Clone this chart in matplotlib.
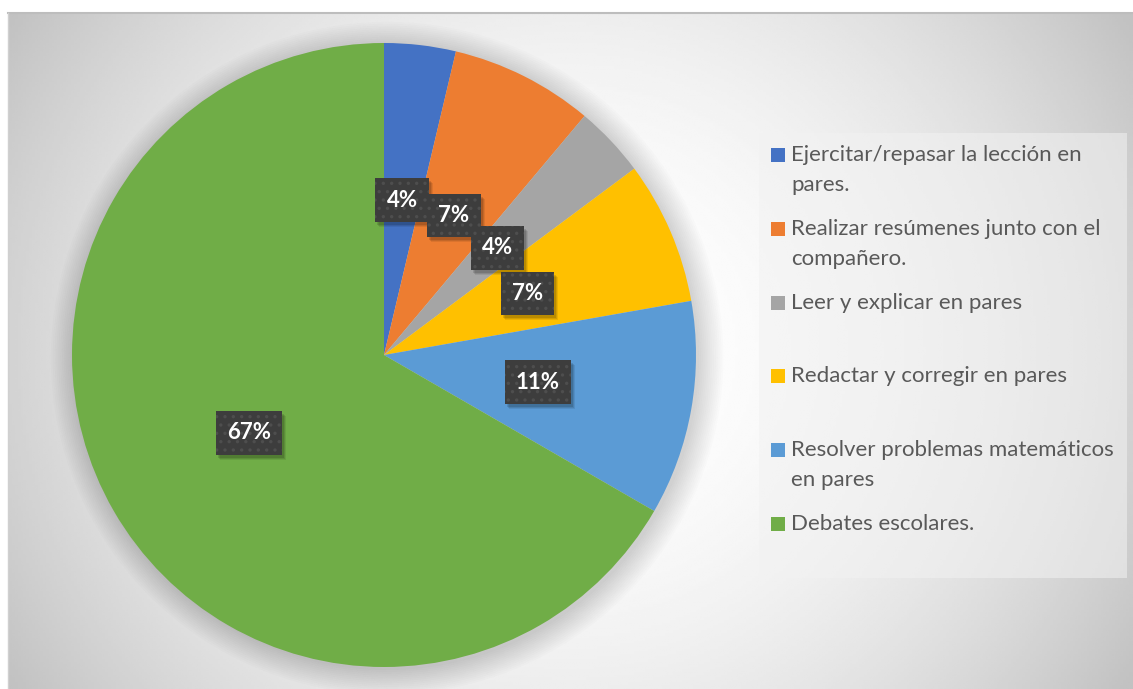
import matplotlib
matplotlib.use("Agg")
import matplotlib.pyplot as plt
import numpy as np
from matplotlib.patches import Circle, Rectangle
from matplotlib.lines import Line2D
from matplotlib.transforms import IdentityTransform

plt.rcParams["font.family"] = ["Lato", "DejaVu Sans"]
plt.rcParams["hatch.linewidth"] = 1.2

# data (counts out of 27 answers)
labels = [
    "Ejercitar/repasar la lección en\npares.",
    "Realizar resúmenes junto con el\ncompañero.",
    "Leer y explicar en pares",
    "Redactar y corregir en pares",
    "Resolver problemas matemáticos\nen pares",
    "Debates escolares.",
]
counts = [1, 2, 1, 2, 3, 18]
colors = ["#4472C4", "#ED7D31", "#A5A5A5", "#FFC000", "#5B9BD5", "#70AD47"]

W, H = 1133, 689


def fx(x):
    return x / W


def fy(y):
    return 1 - y / H


fig = plt.figure(figsize=(W / 100, H / 100), dpi=100)
fig.patch.set_facecolor("white")

# chart area with radial gradient
bg = fig.add_axes([fx(8), 0, 1 - fx(8), 1 - 13 / H], zorder=0)
xs = np.linspace(8, W, 400)
ys = np.linspace(13, H, 260)
X, Y = np.meshgrid(xs, ys)
r = np.hypot(X - 570, (Y - 351) * 1.05)
val = 1 - 0.24 * np.clip(r / 660, 0, 1) ** 2
bg.imshow(val, cmap="gray", vmin=0, vmax=1, extent=(8, W, H, 13), aspect="auto", interpolation="bilinear")
bg.set_axis_off()
fig.add_artist(Line2D([fx(8), 1], [fy(13), fy(13)], color="#bdbdbd", lw=1.5))
fig.add_artist(Line2D([fx(8), fx(8)], [0, fy(13)], color="#d0d0d0", lw=1))

# pie
cx, cy, rad = 384, 355, 312
ax = fig.add_axes([fx(cx - rad), fy(cy + rad), 2 * rad / W, 2 * rad / H], zorder=2)
ax.set_facecolor("none")
for k in range(14):
    ax.add_patch(Circle((0.01, -0.01), 1.0 + 0.006 * k, color="black", alpha=0.013, lw=0, clip_on=False, zorder=0))

wedges, texts, autotexts = ax.pie(
    counts,
    colors=colors,
    startangle=90,
    counterclock=False,
    autopct="%.0f%%",
    pctdistance=0.5,
    wedgeprops=dict(linewidth=0),
    textprops=dict(color="white", fontsize=16, fontweight="bold"),
)
for t in autotexts:
    t.set_zorder(6)
    t.set_bbox(dict(boxstyle="square,pad=0.5", fc="#3d3d3d", ec="#4e4e4e", hatch="..", lw=0))
ax.set_xlim(-1, 1)
ax.set_ylim(-1, 1)
ax.set_aspect("equal")
ax.axis("off")

# soft shadow under each label box (inside the pie axes, below the labels)
fig.canvas.draw()
for t in autotexts:
    bb = t.get_bbox_patch().get_window_extent()
    for k, a in enumerate([0.12, 0.1, 0.08]):
        ax.add_artist(Rectangle((bb.x0 + 2 + k, bb.y0 - 3 - k), bb.width, bb.height,
                                transform=IdentityTransform(), fc="black", alpha=a, lw=0,
                                zorder=5, clip_on=False))

# legend drawn by hand to keep Excel-like spacing
fig.add_artist(Rectangle((fx(759), fy(578)), fx(1127) - fx(759), (578 - 133) / H,
                         transform=fig.transFigure, fc="#f2f2f2", alpha=0.55, lw=0, zorder=3))
first_row, row_step, line_step = 155, 73.8, 30
for i, (lab, col) in enumerate(zip(labels, colors)):
    yc = first_row + i * row_step
    fig.add_artist(Rectangle((fx(771), fy(yc + 7)), 14 / W, 14 / H,
                             transform=fig.transFigure, fc=col, lw=0, zorder=4))
    for j, line in enumerate(lab.split("\n")):
        fig.text(fx(791), fy(yc + j * line_step), line, ha="left", va="center",
                 fontsize=16, color="#595959", zorder=4)

fig.savefig("out.png", dpi=100)
